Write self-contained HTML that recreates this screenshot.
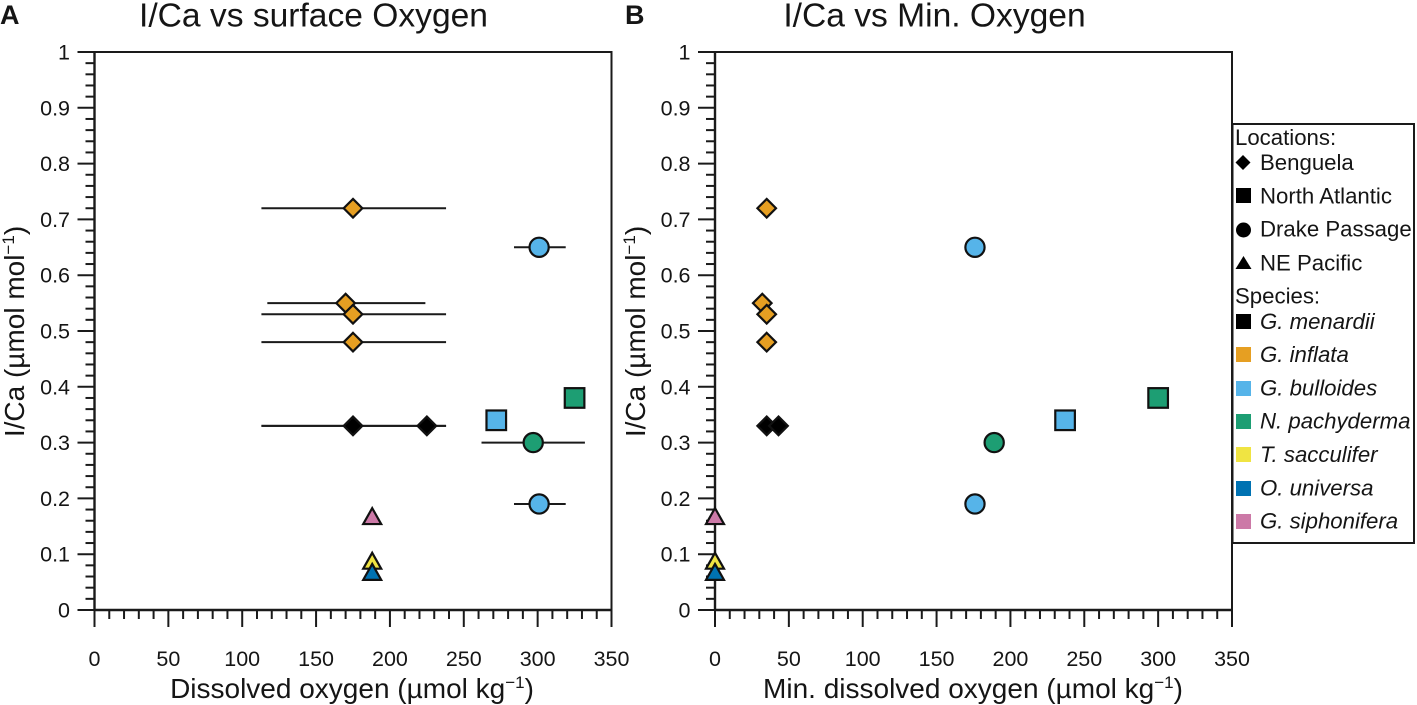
<!DOCTYPE html>
<html lang="en">
<head>
<meta charset="utf-8">
<title>I/Ca vs Oxygen</title>
<style>
html,body{margin:0;padding:0;background:#fff;width:1417px;height:705px;overflow:hidden}
svg{display:block}
text{font-family:"Liberation Sans",Arial,sans-serif;fill:#151515}
</style>
</head>
<body>
<svg id="chart" xmlns="http://www.w3.org/2000/svg" width="1417" height="705" viewBox="0 0 1417 705">
  <text x="0" y="24" font-size="27" font-weight="bold">A</text>
  <text x="625" y="24" font-size="27" font-weight="bold">B</text>
  <text x="313.5" y="26.5" font-size="33.6" text-anchor="middle">I/Ca vs surface Oxygen</text>
  <text x="934.5" y="26.5" font-size="33.6" text-anchor="middle">I/Ca vs Min. Oxygen</text>
  <text x="352" y="698" font-size="28" text-anchor="middle">Dissolved oxygen (µmol kg<tspan font-size="17" dy="-10">−1</tspan><tspan dy="10">)</tspan></text>
  <text x="973" y="698" font-size="28" text-anchor="middle">Min. dissolved oxygen (µmol kg<tspan font-size="17" dy="-10">−1</tspan><tspan dy="10">)</tspan></text>
  <text transform="translate(24,331.5) rotate(-90)" font-size="28" text-anchor="middle">I/Ca (µmol mol<tspan font-size="17" dy="-10">−1</tspan><tspan dy="10">)</tspan></text>
  <text transform="translate(645,331.5) rotate(-90)" font-size="28" text-anchor="middle">I/Ca (µmol mol<tspan font-size="17" dy="-10">−1</tspan><tspan dy="10">)</tspan></text>

  <g id="panel-a"></g>
  <g id="panel-b"></g>

  <g>
    <rect x="1232.5" y="124" width="181.5" height="419" fill="#fff" stroke="#1a1a1a" stroke-width="2"/>
    <text x="1235" y="145" font-size="22.2">Locations:</text>
    <path d="M1243 155l7.5 7.5-7.5 7.5-7.5-7.5z" fill="#000"/>
    <text x="1260" y="170" font-size="22.2">Benguela</text>
    <rect x="1236" y="188" width="15" height="15" fill="#000"/>
    <text x="1260" y="203.5" font-size="22.2">North Atlantic</text>
    <circle cx="1243.5" cy="230" r="7.5" fill="#000"/>
    <text x="1260" y="236.5" font-size="22.2">Drake Passage</text>
    <path d="M1243.5 256l8 13h-16z" fill="#000"/>
    <text x="1260" y="270.5" font-size="22.2">NE Pacific</text>
    <text x="1235" y="303.5" font-size="22.2">Species:</text>
    <rect x="1236" y="314" width="15" height="15" fill="#000"/>
    <text x="1260" y="329" font-size="22.2" font-style="italic">G. menardii</text>
    <rect x="1236" y="347" width="15" height="15" fill="#E69F22"/>
    <text x="1260" y="362" font-size="22.2" font-style="italic">G. inflata</text>
    <rect x="1236" y="381" width="15" height="15" fill="#56B4E9"/>
    <text x="1260" y="395.5" font-size="22.2" font-style="italic">G. bulloides</text>
    <rect x="1236" y="414" width="15" height="15" fill="#1D9E73"/>
    <text x="1260" y="428.5" font-size="22.2" font-style="italic">N. pachyderma</text>
    <rect x="1236" y="447" width="15" height="15" fill="#F0E442"/>
    <text x="1260" y="462" font-size="22.2" font-style="italic">T. sacculifer</text>
    <rect x="1236" y="481" width="15" height="15" fill="#0072B2"/>
    <text x="1260" y="495.5" font-size="22.2" font-style="italic">O. universa</text>
    <rect x="1236" y="514" width="15" height="15" fill="#CC79A7"/>
    <text x="1260" y="528.5" font-size="22.2" font-style="italic">G. siphonifera</text>
  </g>
</svg>
<script>
var xTickLabels = ['0', '50', '100', '150', '200', '250', '300', '350'];
var yTickLabels = ['0', '0.1', '0.2', '0.3', '0.4', '0.5', '0.6', '0.7', '0.8', '0.9', '1'];
var sampleSpecies = ['inflata', 'inflata', 'inflata', 'inflata', 'menardii', 'menardii', 'bulloides', 'bulloides', 'pachyderma', 'bulloides', 'pachyderma', 'siphonifera', 'sacculifer', 'universa'];
var sampleLocations = ['diamond', 'diamond', 'diamond', 'diamond', 'diamond', 'diamond', 'circle', 'circle', 'circle', 'square', 'square', 'triangle', 'triangle', 'triangle'];
var iCaValues = [0.72, 0.55, 0.53, 0.48, 0.33, 0.33, 0.65, 0.19, 0.30, 0.34, 0.38, 0.17, 0.09, 0.07];
var surfaceOxygen = [175, 170, 175, 175, 175, 225, 301, 301, 297, 272, 325, 188, 188, 188];
var surfaceErrorLow = [113, 117, 113, 113, 113, 113, 284, 284, 262, null, null, null, null, null];
var surfaceErrorHigh = [238, 224, 238, 238, 238, 238, 319, 319, 332, null, null, null, null, null];
var minOxygen = [35, 32, 35, 35, 35, 43, 176, 176, 189, 237, 300, 0, 0, 0];
var speciesColors = {menardii: '#000000', inflata: '#E69F22', bulloides: '#56B4E9', pachyderma: '#1D9E73', sacculifer: '#F0E442', universa: '#0072B2', siphonifera: '#CC79A7'};
var xMax = 350;
var yMax = 1;

var NS = 'http://www.w3.org/2000/svg';
var INK = '#1a1a1a';

function make(tag, attrs, parent) {
  var el = document.createElementNS(NS, tag);
  for (var k in attrs) { el.setAttribute(k, attrs[k]); }
  parent.appendChild(el);
  return el;
}

function drawPanel(groupId, left, xValues, errLow, errHigh) {
  var g = document.getElementById(groupId);
  var right = left + 517;
  var top = 52;
  var bottom = 610;
  function sx(v) { return left + (v / xMax) * (right - left); }
  function sy(v) { return bottom - (v / yMax) * (bottom - top); }

  var frame = make('rect', {x: left, y: top, width: right - left, height: bottom - top, fill: 'none', stroke: INK, 'stroke-width': 2}, g);
  
  

  var yAxis = make('line', {x1: left, x2: left, y1: top, y2: bottom, stroke: INK, 'stroke-width': 2.4}, g);
  
  
  var xAxis = make('line', {x1: left, x2: right, y1: bottom, y2: bottom, stroke: INK, 'stroke-width': 2.4}, g);
  
  

  var i, v, tick, label;
  for (i = 0; i <= xMax; i += 10) {
    tick = make('line', {x1: sx(i), x2: sx(i), y1: bottom, y2: bottom + (i % 50 === 0 ? 17 : 9), stroke: INK, 'stroke-width': 2}, g);
    
    
  }
  for (i = 0; i <= 50; i++) {
    v = i * yMax / 50;
    tick = make('line', {x1: left - (i % 5 === 0 ? 17 : 9), x2: left, y1: sy(v), y2: sy(v), stroke: INK, 'stroke-width': 2}, g);
    
    
  }
  xTickLabels.forEach(function (t) {
    label = make('text', {x: sx(parseFloat(t)), y: 666, 'font-size': 21.5, 'text-anchor': 'middle'}, g);
    
    
    label.textContent = t;
  });
  yTickLabels.forEach(function (t) {
    label = make('text', {x: left - 24.5, y: sy(parseFloat(t)) + 7.5, 'font-size': 21.5, 'text-anchor': 'end'}, g);
    
    
    label.textContent = t;
  });

  if (errLow) {
    iCaValues.forEach(function (y, n) {
      if (errLow[n] === null) { return; }
      var bar = make('line', {x1: sx(errLow[n]), x2: sx(errHigh[n]), y1: sy(y), y2: sy(y), stroke: INK, 'stroke-width': 2}, g);
      
      
    });
  }

  iCaValues.forEach(function (y, n) {
    var cx = sx(xValues[n]);
    var cy = sy(y);
    var style = {fill: speciesColors[sampleSpecies[n]], stroke: '#111', 'stroke-width': 2.2, 'stroke-linejoin': 'miter'};
    var shape = sampleLocations[n];
    var mark;
    if (shape === 'circle') {
      style.cx = cx; style.cy = cy; style.r = 9.6;
      mark = make('circle', style, g);
    } else if (shape === 'square') {
      style.x = cx - 9.8; style.y = cy - 9.8; style.width = 19.6; style.height = 19.6;
      mark = make('rect', style, g);
    } else if (shape === 'diamond') {
      style.points = [cx, cy - 9.3, cx + 9.3, cy, cx, cy + 9.3, cx - 9.3, cy].join(' ');
      mark = make('polygon', style, g);
    } else {
      style.points = [cx, cy - 7, cx + 9, cy + 8.9, cx - 9, cy + 8.9].join(' ');
      mark = make('polygon', style, g);
    }
    
    
  });
}

drawPanel('panel-a', 94.5, surfaceOxygen, surfaceErrorLow, surfaceErrorHigh);
drawPanel('panel-b', 715, minOxygen, null, null);
</script>
</body>
</html>
